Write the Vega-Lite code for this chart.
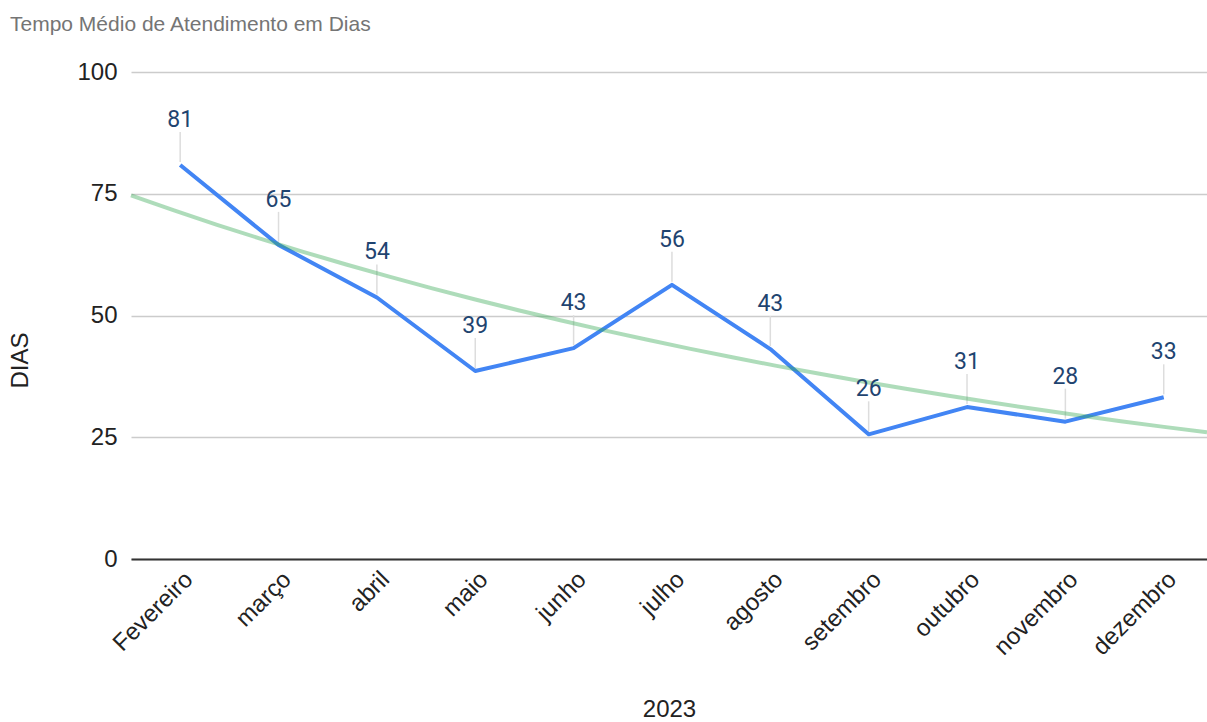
{
  "$schema": "https://vega.github.io/schema/vega-lite/v6.json",
  "width": 1076,
  "height": 487,
  "autosize": {"type": "none"},
  "padding": {"left": 131, "top": 72, "right": 0, "bottom": 163},
  "background": "#ffffff",
  "title": {
    "text": "Tempo Médio de Atendimento em Dias",
    "anchor": "start",
    "frame": "group",
    "dx": -121,
    "offset": 8,
    "baseline": "alphabetic",
    "font": "Liberation Sans",
    "fontSize": 21,
    "fontWeight": "normal",
    "color": "#757575"
  },
  "data": {
    "values": [
      {"idx": 0, "mes": "Fevereiro", "dias": 80.9},
      {"idx": 1, "mes": "março", "dias": 64.5},
      {"idx": 2, "mes": "abril", "dias": 53.7},
      {"idx": 3, "mes": "maio", "dias": 38.6},
      {"idx": 4, "mes": "junho", "dias": 43.3},
      {"idx": 5, "mes": "julho", "dias": 56.3},
      {"idx": 6, "mes": "agosto", "dias": 43.1},
      {"idx": 7, "mes": "setembro", "dias": 25.6},
      {"idx": 8, "mes": "outubro", "dias": 31.2},
      {"idx": 9, "mes": "novembro", "dias": 28.2},
      {"idx": 10, "mes": "dezembro", "dias": 33.2}
    ]
  },
  "encoding": {
    "x": {
      "field": "idx",
      "type": "quantitative",
      "scale": {"domain": [-0.5, 10.44], "nice": false, "zero": false},
      "axis": {
        "values": [0, 1, 2, 3, 4, 5, 6, 7, 8, 9, 10],
        "labelExpr": "['Fevereiro','março','abril','maio','junho','julho','agosto','setembro','outubro','novembro','dezembro'][datum.value]",
        "labelAngle": -45,
        "labelFont": "Liberation Sans",
        "labelFontSize": 24,
        "labelColor": "#222222",
        "labelPadding": 8,
        "labelOverlap": false,
        "ticks": false,
        "grid": false,
        "domain": true,
        "domainColor": "#333333",
        "domainWidth": 2,
        "zindex": 1,
        "title": "2023",
        "titleFont": "Liberation Sans",
        "titleFontSize": 24,
        "titleFontWeight": "normal",
        "titleColor": "#222222",
        "titleY": 150,
        "titleBaseline": "middle"
      }
    },
    "y": {
      "field": "dias",
      "type": "quantitative",
      "scale": {"domain": [0, 100], "nice": false},
      "axis": {
        "values": [0, 25, 50, 75, 100],
        "grid": true,
        "gridColor": "#cccccc",
        "gridWidth": 1.3,
        "domain": false,
        "ticks": false,
        "labelFont": "Liberation Sans",
        "labelFontSize": 24,
        "labelColor": "#222222",
        "labelPadding": 14,
        "title": "DIAS",
        "titleFont": "Liberation Sans",
        "titleFontSize": 24,
        "titleFontWeight": "normal",
        "titleColor": "#222222",
        "titleX": -111,
        "titleY": 288,
        "titleAlign": "center",
        "titleBaseline": "middle"
      }
    }
  },
  "layer": [
    {
      "mark": {"type": "rule", "color": "#dddddd", "strokeWidth": 1.5, "yOffset": -3, "y2Offset": -33},
      "encoding": {"y2": {"field": "dias"}}
    },
    {
      "mark": {"type": "line", "color": "#4285f4", "strokeWidth": 4, "strokeJoin": "round"}
    },
    {
      "transform": [
        {"regression": "dias", "on": "idx", "method": "exp", "extent": [-0.5, 10.44]}
      ],
      "mark": {"type": "line", "color": "#34a853", "opacity": 0.4, "strokeWidth": 4}
    },
    {
      "mark": {
        "type": "text",
        "font": "Roboto",
        "fontSize": 23,
        "color": "#1f4470",
        "baseline": "alphabetic",
        "align": "center",
        "dy": -38
      },
      "encoding": {"text": {"field": "dias", "type": "quantitative", "format": ".0f"}}
    }
  ],
  "config": {"view": {"stroke": null}}
}
